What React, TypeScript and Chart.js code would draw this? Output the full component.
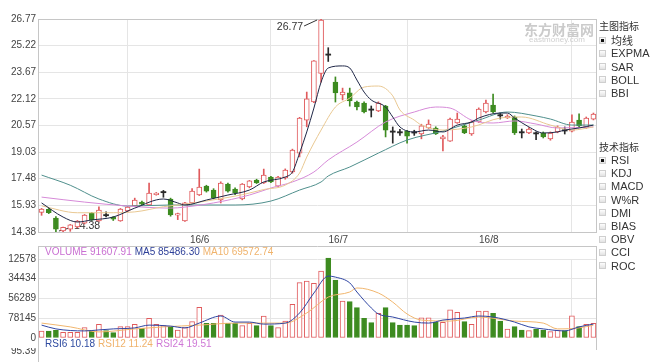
import React, { useEffect, useRef } from "react";
import { Chart, registerables } from "chart.js";

Chart.register(...registerables);

// ---------- data ----------
const openP = [15.52,15.70,15.19,14.45,14.55,14.67,14.90,15.48,15.02,15.38, 15.25,15.02,15.60,15.89,16.12,15.95,16.55,16.68,16.30,15.36, 15.02,16.07,16.53,17.05,16.82,16.24,17.17,16.88,16.30,17.00, 17.40,17.23,17.58,17.05,17.52,17.87,18.97,20.89,21.94,23.60, 24.75,23.10,22.35,22.47,21.94,21.88,21.53,21.42,21.71,20.25, 20.20,20.25,20.20,20.08,20.43,20.43,19.79,19.67,20.72,20.55, 20.08,20.78,21.36,21.76,21.19,21.01,21.07,20.20,20.14,20.14, 20.14,19.79,20.20,20.31,20.25,20.89,20.43,20.95];
const highP = [15.75,15.75,15.28,14.67,14.82,15.05,15.40,15.52,15.85,15.55, 15.28,15.75,15.87,16.35,16.18,17.23,16.68,16.80,16.35,15.48, 16.10,16.90,18.04,17.10,16.90,17.30,17.23,16.95,17.20,17.38, 17.45,18.04,17.62,17.62,18.05,19.20,21.05,22.52,24.35,26.77, 25.10,23.40,22.75,22.75,22.00,21.95,21.71,21.95,21.75,20.49, 20.35,20.30,20.30,20.65,20.90,20.50,20.00,21.00,21.30,20.65, 20.85,21.60,22.06,22.40,21.30,21.20,21.13,20.37,20.45,20.20, 20.20,20.20,20.55,20.49,21.19,21.25,21.07,21.30];
const lowP = [15.35,15.45,14.38,14.40,14.42,14.62,14.85,15.05,15.00,15.25, 15.05,15.00,15.55,15.85,15.95,15.92,16.52,16.40,15.30,15.10, 15.00,16.05,16.50,16.70,16.30,16.07,16.70,16.55,16.25,16.95, 17.20,17.20,17.25,17.00,17.45,17.80,18.75,20.50,21.90,23.10, 24.30,21.94,22.06,21.70,21.48,21.30,21.07,21.38,19.91,19.55, 20.00,19.55,20.00,19.80,20.40,20.05,19.09,19.65,20.70,20.10, 20.00,20.75,21.30,21.30,20.95,20.98,20.05,19.85,20.10,19.75, 19.85,19.72,20.15,20.08,20.20,20.50,20.40,20.90];
const closeP = [15.72,15.50,14.55,14.65,14.80,15.02,15.37,15.10,15.65,15.36, 15.12,15.72,15.83,16.24,16.00,16.65,16.65,16.70,15.37,15.45, 16.07,16.76,17.00,16.76,16.36,17.23,16.76,16.65,17.17,17.35, 17.23,17.69,17.29,17.58,17.98,19.15,21.01,22.12,24.33,26.71, 24.70,22.47,22.52,22.00,21.65,21.36,21.50,21.88,20.31,20.22, 20.18,19.96,20.17,20.55,20.66,20.08,19.91,20.95,20.95,20.14, 20.78,21.53,21.88,21.36,21.17,21.13,20.14,20.18,20.37,20.12, 19.91,20.14,20.49,20.29,20.78,20.55,21.01,21.24];
const volume = [27700,27700,30000,22400,22400,22400,40900,29000,54000,29000, 21000,44800,44800,54000,38000,77800,54000,48800,47500,31700, 40900,64600,121000,58000,58000,91000,58000,58000,48800,58000, 48800,87000,48800,40900,67000,133000,219000,225000,216000,265000, 316000,229000,146000,144000,120000,78000,60600,97600,120000,60600, 51000,51000,48800,80000,80000,62000,62000,111000,102000,64600, 54000,107000,107000,97600,67000,35600,44800,31700,29000,35600, 31700,25000,31700,29000,88000,44800,54000,58000];

// moving-average lines: [candle index, value]
const ma5Pts = [[0,16.07],[3,15.25],[5,14.96],[7,15.08],[10,15.25],[13,15.77],[17,16.30],[19,16.07],[20,15.95],[23,16.24],[26,16.53],[29,16.82],[31,17.29],[34,17.58],[35,17.87],[36,18.97],[37,20.20],[38,21.59],[39,23.10],[40,23.92],[42,24.04],[43,23.92],[44,23.22],[45,22.52],[46,22.06],[48,21.65],[49,21.07],[50,20.49],[52,20.20],[54,20.31],[56,20.20],[58,20.60],[60,20.78],[61,21.01],[64,21.30],[65,21.30],[66,21.01],[68,20.49],[70,20.14],[72,20.20],[73,20.31],[75,20.43],[77,20.60]];
const ma10Pts = [[0,15.90],[5,15.50],[9,15.50],[13,15.55],[17,15.85],[20,16.00],[24,16.25],[28,16.55],[31,16.85],[34,17.11],[36,17.81],[37,18.74],[39,20.31],[41,21.65],[43,22.17],[45,22.81],[47,22.87],[49,22.30],[50,21.48],[52,20.89],[53,20.60],[56,20.31],[60,20.49],[64,21.01],[67,21.07],[71,20.60],[74,20.31],[77,20.49]];
const ma20Pts = [[0,16.41],[6,16.12],[12,15.89],[18,15.77],[20,15.83],[24,16.07],[29,16.53],[32,16.94],[35,17.29],[38,17.87],[40,18.57],[44,19.61],[48,20.78],[52,21.36],[55,21.65],[57,21.59],[60,20.89],[63,20.72],[66,20.84],[69,20.66],[72,20.43],[77,20.49]];
const ma30Pts = [[0,17.69],[4,17.10],[8,16.30],[12,15.89],[18,15.95],[27,15.95],[32,16.18],[36,16.82],[39,17.29],[40,17.64],[43,18.16],[47,18.97],[51,19.73],[56,20.25],[61,20.89],[65,21.36],[69,21.13],[71,20.95],[74,20.60],[77,20.60]];
const volMa5Pts = [[0,51000],[2,36000],[6,28000],[8,32000],[10,36000],[13,40000],[15,51000],[18,47000],[20,40000],[22,59000],[25,87000],[27,63000],[29,63000],[31,55000],[34,59000],[36,99000],[38,178000],[40,245000],[41,241000],[43,218000],[44,182000],[46,119000],[47,95000],[49,83000],[52,63000],[54,59000],[56,71000],[59,79000],[61,87000],[63,83000],[66,63000],[68,44000],[70,36000],[73,28000],[75,44000],[77,55000]];
const volMa10Pts = [[0,59000],[4,44000],[8,24000],[13,36000],[17,44000],[22,51000],[27,59000],[31,59000],[34,59000],[37,99000],[40,162000],[43,182000],[44,198000],[47,178000],[49,142000],[51,95000],[53,71000],[57,67000],[61,83000],[66,67000],[70,59000],[72,36000],[75,40000],[77,51000]];

// axes
const priceTicks = [14.38, 15.93, 17.48, 19.03, 20.57, 22.12, 23.67, 25.22, 26.77];
const priceTickLabels = ["14.38", "15.93", "17.48", "19.03", "20.57", "22.12", "23.67", "25.22", "26.77"];
const volTicks = [0, 78145, 156289, 234434, 312578];
const volTickLabels = ["0", "78145", "56289", "34434", "12578"];
const monthGridIdx = [12, 32, 51, 74];
const monthLabelIdx = [22.05, 41.4, 62.4];
const monthLabels = ["16/6", "16/7", "16/8"];

const volLegend = [["VOLUME 91607.91", "#c96fd2"], ["MA5 85486.30", "#2d3f98"], ["MA10 69572.74", "#f0b36c"]];
const rsiLegend = [["RSI6 10.18", "#2d4aa0"], ["RSI12 11.24", "#f0b36c"], ["RSI24 19.51", "#cf78d6"]];
const rsiTopLabel = "95.39";
const mainIndicators = ["均线", "EXPMA", "SAR", "BOLL", "BBI"];
const techIndicators = ["RSI", "KDJ", "MACD", "W%R", "DMI", "BIAS", "OBV", "CCI", "ROC"];

// ---------- styles ----------
const RED = "#e05a5c";
const GREEN = "#3d8b20";
const DOJI = "#2a2a2a";
const GRID = "#e5e5e5";
const FRAME = "#c6c6c6";
const TEXT = "#444";
const FONT = '"Liberation Sans", Arial, Helvetica, sans-serif';
const CJK = '"Noto Sans CJK SC", "Liberation Sans", sans-serif';

const N = closeP.length;
const isDoji = (i: number) => Math.abs(closeP[i] - openP[i]) < 0.06;
const isUp = (i: number) => closeP[i] >= openP[i];
const candleColor = (i: number) => (isDoji(i) ? DOJI : isUp(i) ? RED : GREEN);
const toPts = (arr: number[][]) => arr.map(([x, y]) => ({ x, y }));

function xScale(showLabels: boolean): any {
  return {
    type: "linear",
    offset: false,
    min: -0.5,
    max: N - 0.5,
    afterBuildTicks: (s: any) => {
      const vals = showLabels ? [...monthGridIdx, ...monthLabelIdx] : [...monthGridIdx];
      vals.sort((a, b) => a - b);
      s.ticks = vals.map((v) => ({ value: v }));
    },
    afterFit: (s: any) => {
      s.height = showLabels ? 14 : 0;
    },
    grid: {
      offset: false,
      color: (ctx: any) => (ctx.tick && monthGridIdx.includes(ctx.tick.value) ? GRID : "rgba(0,0,0,0)"),
      drawTicks: false,
    },
    border: { display: false },
    ticks: {
      display: showLabels,
      autoSkip: false,
      maxRotation: 0,
      padding: 2,
      color: TEXT,
      font: { family: FONT, size: 10 },
      callback: (v: any) => {
        const k = monthLabelIdx.indexOf(v);
        return k >= 0 ? monthLabels[k] : "";
      },
    },
  };
}

const priceFrame = {
  id: "priceFrame",
  beforeDatasetsDraw(chart: any) {
    const { ctx, chartArea: a } = chart;
    ctx.save();
    ctx.strokeStyle = FRAME;
    ctx.lineWidth = 1;
    ctx.strokeRect(Math.round(a.left) + 0.5, Math.round(a.top) + 0.5, Math.round(a.right - a.left) - 1, Math.round(a.bottom - a.top));
    ctx.restore();
  },
};

const extremes = {
  id: "extremes",
  beforeDatasetsDraw(chart: any) {
    const { ctx, scales } = chart;
    const x = scales.x, y = scales.y;
    const hi = Math.max(...highP), iHi = highP.indexOf(hi);
    const lo = Math.min(...lowP), iLo = lowP.indexOf(lo);
    ctx.save();
    ctx.font = `10.5px ${FONT}`;
    ctx.fillStyle = "#333";
    ctx.strokeStyle = "#333";
    ctx.lineWidth = 1;
    const hx = x.getPixelForValue(iHi), hy = y.getPixelForValue(hi);
    ctx.beginPath();
    ctx.moveTo(hx - 4, hy + 1);
    ctx.lineTo(hx - 17, hy + 7);
    ctx.stroke();
    ctx.textAlign = "right";
    ctx.textBaseline = "middle";
    ctx.fillText(hi.toFixed(2), hx - 18, hy + 8);
    const lx = x.getPixelForValue(iLo), ly = y.getPixelForValue(lo);
    ctx.beginPath();
    ctx.moveTo(lx + 3, ly - 1);
    ctx.lineTo(lx + 17, ly - 5);
    ctx.stroke();
    ctx.textAlign = "left";
    ctx.fillText(lo.toFixed(2), lx + 18, ly - 6);
    ctx.restore();
  },
};

const volFrame = {
  id: "volFrame",
  beforeDatasetsDraw(chart: any) {
    const { ctx, chartArea: a } = chart;
    const l = Math.round(a.left) + 0.5, r = Math.round(a.right) - 0.5;
    ctx.save();
    ctx.strokeStyle = FRAME;
    ctx.lineWidth = 1;
    ctx.beginPath();
    ctx.moveTo(l, 0.5);
    ctx.lineTo(r, 0.5);
    ctx.moveTo(l, 0);
    ctx.lineTo(l, chart.height);
    ctx.moveTo(r, 0);
    ctx.lineTo(r, a.bottom + 12);
    ctx.stroke();
    ctx.restore();
  },
};

function lineDs(pts: number[][], color: string) {
  return {
    type: "line",
    data: toPts(pts),
    borderColor: color,
    borderWidth: 1,
    pointRadius: 0,
    cubicInterpolationMode: "monotone",
    fill: false,
    order: 0,
  };
}

function PriceChart() {
  const ref = useRef<HTMLCanvasElement>(null);
  useEffect(() => {
    const idx = openP.map((_, i) => i);
    const chart = new Chart(ref.current as HTMLCanvasElement, {
      type: "bar",
      data: {
        datasets: [
          lineDs(ma5Pts, "#1f2747"),
          lineDs(ma10Pts, "#e9c892"),
          lineDs(ma20Pts, "#d68ad8"),
          lineDs(ma30Pts, "#4f8f8c"),
          {
            type: "bar",
            data: idx.map((i) => ({ x: i, y: [lowP[i], highP[i]] })),
            backgroundColor: idx.map(candleColor),
            borderWidth: 0,
            barThickness: 1,
            grouped: false,
            order: 2,
          },
          {
            type: "bar",
            data: idx.map((i) => ({
              x: i,
              y: isDoji(i) ? [closeP[i] - 0.035, closeP[i] + 0.035] : [openP[i], closeP[i]],
            })),
            backgroundColor: idx.map((i) => (isDoji(i) ? DOJI : isUp(i) ? "#ffffff" : GREEN)),
            borderColor: idx.map(candleColor),
            borderWidth: idx.map((i) => (isDoji(i) ? 0 : 1)),
            borderSkipped: false,
            barThickness: 5,
            grouped: false,
            order: 1,
          },
        ] as any,
      },
      options: {
        animation: false,
        responsive: false,
        events: [],
        layout: { padding: { top: 19, right: 3, left: 0, bottom: 0 } },
        plugins: { legend: { display: false }, tooltip: { enabled: false } },
        scales: {
          x: xScale(true),
          y: {
            min: priceTicks[0],
            max: priceTicks[priceTicks.length - 1],
            afterBuildTicks: (s: any) => {
              s.ticks = priceTicks.map((v) => ({ value: v }));
            },
            afterFit: (s: any) => {
              s.width = 38;
            },
            grid: { color: GRID, drawTicks: false },
            border: { display: false },
            ticks: {
              padding: 2,
              color: TEXT,
              font: { family: FONT, size: 10 },
              callback: (_v: any, i: number) => priceTickLabels[i],
            },
          },
        },
      } as any,
      plugins: [priceFrame, extremes],
    });
    return () => chart.destroy();
  }, []);
  return <canvas ref={ref} width={600} height={246} style={{ position: "absolute", left: 0, top: 0, width: 600, height: 246 }} />;
}

function VolumeChart() {
  const ref = useRef<HTMLCanvasElement>(null);
  useEffect(() => {
    const idx = volume.map((_, i) => i);
    const chart = new Chart(ref.current as HTMLCanvasElement, {
      type: "bar",
      data: {
        datasets: [
          lineDs(volMa5Pts, "#2f45a3"),
          lineDs(volMa10Pts, "#f1b66e"),
          {
            type: "bar",
            data: idx.map((i) => ({ x: i, y: volume[i] })),
            backgroundColor: idx.map((i) => (isUp(i) ? "#ffffff" : GREEN)),
            borderColor: idx.map((i) => (isUp(i) ? RED : GREEN)),
            borderWidth: 1,
            borderSkipped: false,
            barThickness: 5,
            grouped: false,
            clip: false,
            order: 1,
          },
        ] as any,
      },
      options: {
        animation: false,
        responsive: false,
        events: [],
        layout: { padding: { top: 13, right: 3, left: 0, bottom: 24 } },
        plugins: { legend: { display: false }, tooltip: { enabled: false } },
        scales: {
          x: xScale(false),
          y: {
            min: volTicks[0],
            max: volTicks[volTicks.length - 1],
            afterBuildTicks: (s: any) => {
              s.ticks = volTicks.map((v) => ({ value: v }));
            },
            afterFit: (s: any) => {
              s.width = 38;
            },
            grid: { color: (ctx: any) => (ctx.tick && ctx.tick.value === 0 ? "rgba(0,0,0,0)" : GRID), drawTicks: false },
            border: { display: false },
            ticks: {
              padding: 2,
              color: TEXT,
              font: { family: FONT, size: 10 },
              callback: (_v: any, i: number) => volTickLabels[i],
            },
          },
        },
      } as any,
      plugins: [volFrame],
    });
    return () => chart.destroy();
  }, []);
  return <canvas ref={ref} width={600} height={116} style={{ position: "absolute", left: 0, top: 246, width: 600, height: 116 }} />;
}

function CheckBox({ checked }: { checked: boolean }) {
  return (
    <div
      style={{
        position: "absolute",
        left: 1,
        top: -3.5,
        width: 7,
        height: 7,
        boxSizing: "border-box",
        border: "1px solid #cfcfcf",
        background: "linear-gradient(#fdfdfd,#e2e2e2)",
      }}
    >
      {checked ? <div style={{ position: "absolute", left: 1, top: 1, width: 3, height: 3, background: "#111" }} /> : null}
    </div>
  );
}

function Panel() {
  const item = (label: string, cy: number, checked: boolean) => (
    <div key={label} style={{ position: "absolute", left: 0, top: cy, width: 60, height: 0 }}>
      <CheckBox checked={checked} />
      <div
        style={{
          position: "absolute",
          left: 13,
          top: -7,
          lineHeight: "14px",
          fontSize: 11,
          fontFamily: /[\u4e00-\u9fff]/.test(label) ? CJK : FONT,
          color: "#333",
          whiteSpace: "nowrap",
        }}
      >
        {label}
      </div>
    </div>
  );
  const heading = (label: string, cy: number) => (
    <div
      style={{
        position: "absolute",
        left: 1,
        top: cy - 7,
        lineHeight: "14px",
        fontSize: 10,
        fontFamily: CJK,
        color: "#333",
        whiteSpace: "nowrap",
      }}
    >
      {label}
    </div>
  );
  return (
    <div style={{ position: "absolute", left: 598, top: 0, width: 52, height: 362, overflow: "hidden" }}>
      {heading("主图指标", 26)}
      {mainIndicators.map((m, i) => item(m, 40 + i * 13.3, i === 0))}
      {heading("技术指标", 147)}
      {techIndicators.map((m, i) => item(m, 160 + i * 13.2, i === 0))}
    </div>
  );
}

function Legend({ items, left, top }: { items: string[][]; left: number; top: number }) {
  return (
    <div style={{ position: "absolute", left, top, fontFamily: FONT, fontSize: 10, lineHeight: "12px", whiteSpace: "nowrap" }}>
      {items.map(([t, c], i) => (
        <span key={t} style={{ color: c, marginLeft: i === 0 ? 0 : 3 }}>
          {t}
        </span>
      ))}
    </div>
  );
}

export default function App() {
  return (
    <div
      style={{
        position: "fixed",
        left: 0,
        top: 0,
        width: 658,
        height: 362,
        background: "#fff",
        overflow: "hidden",
        fontFamily: FONT,
      }}
    >
      <PriceChart />
      <VolumeChart />
      <div
        style={{
          position: "absolute",
          left: 524,
          top: 21,
          fontFamily: CJK,
          fontWeight: 700,
          fontSize: 14,
          lineHeight: "16px",
          color: "#cbcbcb",
          whiteSpace: "nowrap",
        }}
      >
        东方财富网
      </div>
      <div style={{ position: "absolute", left: 529, top: 35, fontFamily: FONT, fontSize: 8, lineHeight: "9px", color: "#d0d0d0" }}>
        eastmoney.com
      </div>
      <Legend items={volLegend} left={45} top={246} />
      <Legend items={rsiLegend} left={45} top={338} />
      <div style={{ position: "absolute", left: 0, top: 348, width: 36, height: 14, overflow: "hidden" }}>
        <div style={{ position: "absolute", right: 0, top: -3, fontSize: 10, lineHeight: "12px", color: TEXT, fontFamily: FONT }}>
          {rsiTopLabel}
        </div>
      </div>
      <Panel />
    </div>
  );
}
